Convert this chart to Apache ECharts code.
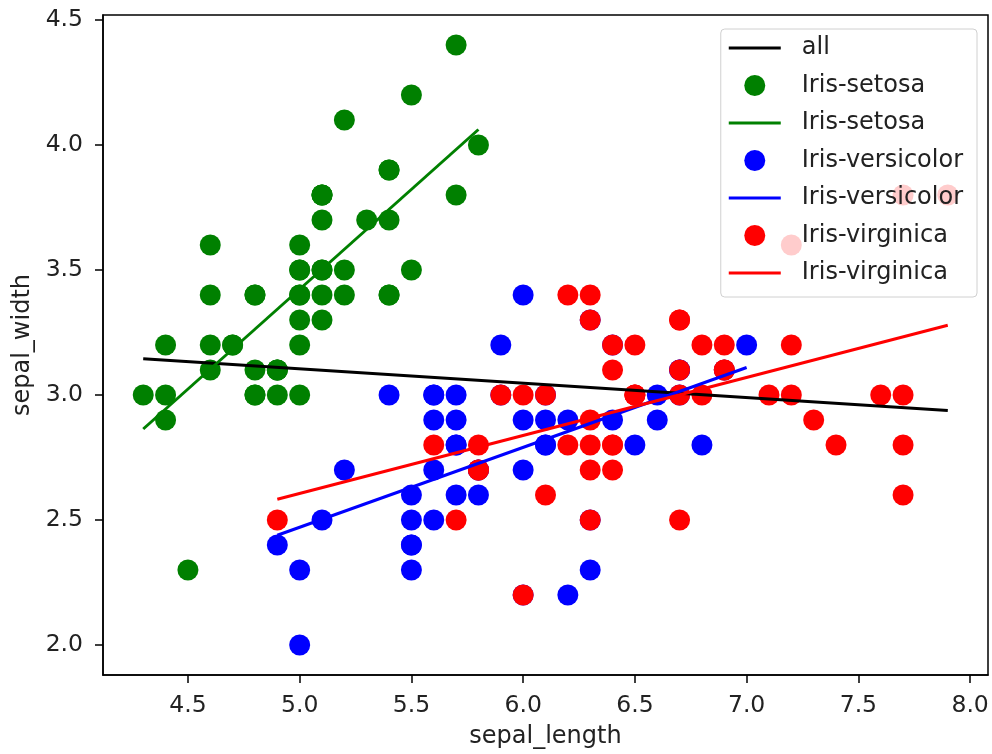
<!DOCTYPE html>
<html>
<head>
<meta charset="utf-8">
<script src="https://cdn.jsdelivr.net/npm/echarts@6/dist/echarts.min.js"></script>
<style>
  html, body { margin: 0; padding: 0; background: #fff; }
  #chart { width: 992px; height: 754px; }
</style>
</head>
<body>
<div id="chart"></div>
<script>
// sepal_length, sepal_width per species
const setosa = [
  [5.1, 3.5], [4.9, 3.0], [4.7, 3.2], [4.6, 3.1], [5.0, 3.6], [5.4, 3.9], [4.6, 3.4], [5.0, 3.4],
  [4.4, 2.9], [4.9, 3.1], [5.4, 3.7], [4.8, 3.4], [4.8, 3.0], [4.3, 3.0], [5.8, 4.0], [5.7, 4.4],
  [5.4, 3.9], [5.1, 3.5], [5.7, 3.8], [5.1, 3.8], [5.4, 3.4], [5.1, 3.7], [4.6, 3.6], [5.1, 3.3],
  [4.8, 3.4], [5.0, 3.0], [5.0, 3.4], [5.2, 3.5], [5.2, 3.4], [4.7, 3.2], [4.8, 3.1], [5.4, 3.4],
  [5.2, 4.1], [5.5, 4.2], [4.9, 3.1], [5.0, 3.2], [5.5, 3.5], [4.9, 3.1], [4.4, 3.0], [5.1, 3.4],
  [5.0, 3.5], [4.5, 2.3], [4.4, 3.2], [5.0, 3.5], [5.1, 3.8], [4.8, 3.0], [5.1, 3.8], [4.6, 3.2],
  [5.3, 3.7], [5.0, 3.3]
];
const versicolor = [
  [7.0, 3.2], [6.4, 3.2], [6.9, 3.1], [5.5, 2.3], [6.5, 2.8], [5.7, 2.8], [6.3, 3.3], [4.9, 2.4],
  [6.6, 2.9], [5.2, 2.7], [5.0, 2.0], [5.9, 3.0], [6.0, 2.2], [6.1, 2.9], [5.6, 2.9], [6.7, 3.1],
  [5.6, 3.0], [5.8, 2.7], [6.2, 2.2], [5.6, 2.5], [5.9, 3.2], [6.1, 2.8], [6.3, 2.5], [6.1, 2.8],
  [6.4, 2.9], [6.6, 3.0], [6.8, 2.8], [6.7, 3.0], [6.0, 2.9], [5.7, 2.6], [5.5, 2.4], [5.5, 2.4],
  [5.8, 2.7], [6.0, 2.7], [5.4, 3.0], [6.0, 3.4], [6.7, 3.1], [6.3, 2.3], [5.6, 3.0], [5.5, 2.5],
  [5.5, 2.6], [6.1, 3.0], [5.8, 2.6], [5.0, 2.3], [5.6, 2.7], [5.7, 3.0], [5.7, 2.9], [6.2, 2.9],
  [5.1, 2.5], [5.7, 2.8]
];
const virginica = [
  [6.3, 3.3], [5.8, 2.7], [7.1, 3.0], [6.3, 2.9], [6.5, 3.0], [7.6, 3.0], [4.9, 2.5], [7.3, 2.9],
  [6.7, 2.5], [7.2, 3.6], [6.5, 3.2], [6.4, 2.7], [6.8, 3.0], [5.7, 2.5], [5.8, 2.8], [6.4, 3.2],
  [6.5, 3.0], [7.7, 3.8], [7.7, 2.6], [6.0, 2.2], [6.9, 3.2], [5.6, 2.8], [7.7, 2.8], [6.3, 2.7],
  [6.7, 3.3], [7.2, 3.2], [6.2, 2.8], [6.1, 3.0], [6.4, 2.8], [7.2, 3.0], [7.4, 2.8], [7.9, 3.8],
  [6.4, 2.8], [6.3, 2.8], [6.1, 2.6], [7.7, 3.0], [6.3, 3.4], [6.4, 3.1], [6.0, 3.0], [6.9, 3.1],
  [6.7, 3.1], [6.9, 3.1], [5.8, 2.7], [6.8, 3.2], [6.7, 3.3], [6.7, 3.0], [6.3, 2.5], [6.5, 3.0],
  [6.2, 3.4], [5.9, 3.0]
];

// fitted lines, end points
const allFit = [[4.3, 3.145], [7.9, 2.938]];
const setosaFit = [[4.3, 2.864], [5.8, 4.062]];
const versicolorFit = [[4.9, 2.439], [7.0, 3.110]];
const virginicaFit = [[4.9, 2.583], [7.9, 3.279]];

const xTicks = [4.5, 5.0, 5.5, 6.0, 6.5, 7.0, 7.5, 8.0];
const yTicks = [2.0, 2.5, 3.0, 3.5, 4.0, 4.5];

const FONT = 'DejaVu Sans';
const TEXT = '#222';
const LINE_ICON = 'path://M0,0H52V3H0Z';

const chart = echarts.init(document.getElementById('chart'), null, { renderer: 'canvas' });

const scatter = (name, data, color) => ({
  name,
  type: 'scatter',
  data,
  symbol: 'circle',
  symbolSize: 21,
  itemStyle: { color, opacity: 1 },
  emphasis: { disabled: true },
  z: 2
});

const fitLine = (name, data, color) => ({
  name,
  type: 'line',
  data,
  symbol: 'none',
  showSymbol: false,
  lineStyle: { color, width: 3 },
  itemStyle: { color },
  emphasis: { disabled: true },
  z: 3
});

const axisCommon = {
  type: 'value',
  axisLine: { show: true, onZero: false, lineStyle: { color: '#000', width: 1.5 } },
  axisTick: { show: true, length: 8, lineStyle: { color: '#000', width: 1.5 } },
  splitLine: { show: false },
  nameTextStyle: { color: TEXT, fontFamily: FONT, fontSize: 24 }
};

chart.setOption({
  animation: false,
  backgroundColor: '#fff',
  grid: {
    left: 103, right: 4, top: 15, bottom: 79,
    show: true, borderColor: '#000', borderWidth: 1.5, backgroundColor: 'transparent'
  },
  xAxis: {
    ...axisCommon,
    min: 4.12,
    max: 8.08,
    name: 'sepal_length',
    nameLocation: 'middle',
    nameGap: 50,
    axisTick: { ...axisCommon.axisTick, customValues: xTicks },
    axisLabel: {
      customValues: xTicks,
      formatter: v => v.toFixed(1),
      color: TEXT, fontFamily: FONT, fontSize: 23.5, margin: 19
    }
  },
  yAxis: {
    ...axisCommon,
    min: 1.88,
    max: 4.52,
    name: 'sepal_width',
    nameLocation: 'middle',
    nameGap: 65,
    axisTick: { ...axisCommon.axisTick, customValues: yTicks },
    axisLabel: {
      customValues: yTicks,
      formatter: v => v.toFixed(1),
      color: TEXT, fontFamily: FONT, fontSize: 23.5, margin: 20
    }
  },
  legend: {
    orient: 'vertical',
    right: 15,
    top: 29,
    padding: [7, 14, 12, 8],
    itemWidth: 52,
    itemHeight: 21,
    itemGap: 13.5,
    backgroundColor: 'rgba(255,255,255,0.8)',
    borderColor: '#d0d0d0',
    borderWidth: 1,
    borderRadius: 4,
    selectedMode: false,
    formatter: name => name.trim(),
    textStyle: { color: TEXT, fontFamily: FONT, fontSize: 24, padding: [0, 0, 0, 16] },
    data: [
      { name: 'all', icon: LINE_ICON },
      { name: 'Iris-setosa', icon: 'circle' },
      { name: 'Iris-setosa ', icon: LINE_ICON },
      { name: 'Iris-versicolor', icon: 'circle' },
      { name: 'Iris-versicolor ', icon: LINE_ICON },
      { name: 'Iris-virginica', icon: 'circle' },
      { name: 'Iris-virginica ', icon: LINE_ICON }
    ]
  },
  series: [
    scatter('Iris-setosa', setosa, '#008000'),
    scatter('Iris-versicolor', versicolor, '#0000ff'),
    scatter('Iris-virginica', virginica, '#ff0000'),
    fitLine('all', allFit, '#000000'),
    fitLine('Iris-setosa ', setosaFit, '#008000'),
    fitLine('Iris-versicolor ', versicolorFit, '#0000ff'),
    fitLine('Iris-virginica ', virginicaFit, '#ff0000')
  ]
});

window.addEventListener('resize', () => chart.resize());
</script>
</body>
</html>
